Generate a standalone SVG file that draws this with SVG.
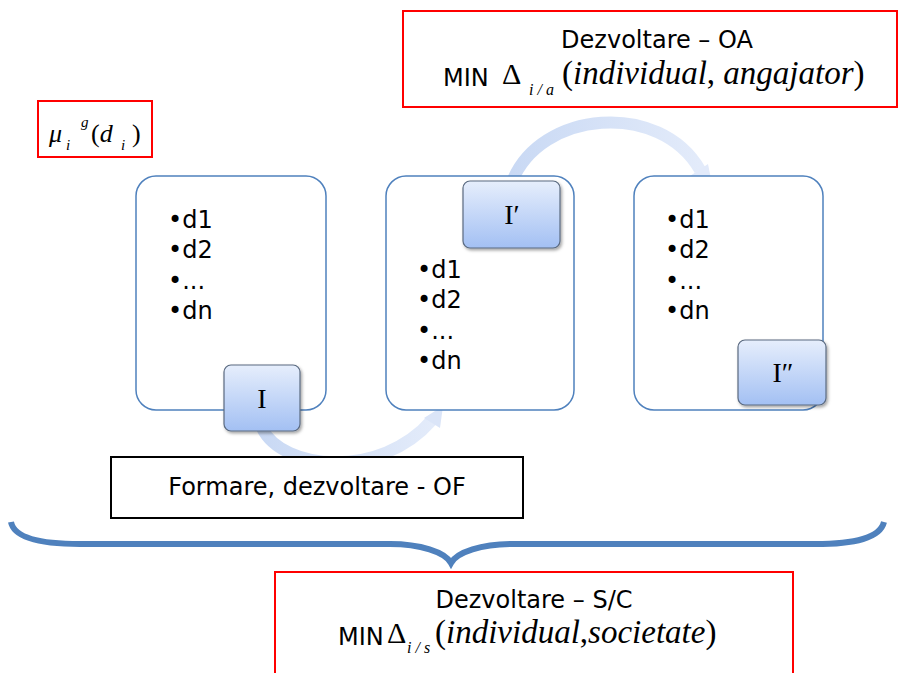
<svg xmlns="http://www.w3.org/2000/svg" width="899" height="673" viewBox="0 0 899 673">
  <style>
    .txt { font-family: "DejaVu Sans", Verdana, sans-serif; font-size: 24px; fill: #000; }
    .math { font-family: "Liberation Serif", "Times New Roman", serif; font-style: italic; fill: #000; }
    .up { font-style: normal; }
    .redbox { fill: #fff; stroke: #ff0000; stroke-width: 2; }
    .panel { fill: #fff; stroke: #4f81bd; stroke-width: 1.5; }
    .tag { fill: url(#tagGrad); stroke: #5a6a80; stroke-width: 1.2; filter: url(#shadow); }
    .tagtxt { font-family: "Liberation Serif", "Times New Roman", serif; font-size: 28px; fill: #000; text-anchor: middle; }
    .flow { fill: none; stroke: url(#flowGrad); stroke-width: 12; }
  </style>
  <defs>
    <linearGradient id="tagGrad" x1="0" y1="0" x2="0" y2="1">
      <stop offset="0" stop-color="#e6eefc"/>
      <stop offset="1" stop-color="#a3c0f3"/>
    </linearGradient>
    <linearGradient id="flowGrad" x1="0" y1="0" x2="1" y2="0">
      <stop offset="0" stop-color="#c9d9f4"/>
      <stop offset="1" stop-color="#e3ebfa"/>
    </linearGradient>
    <filter id="shadow" x="-20%" y="-20%" width="150%" height="150%">
      <feDropShadow dx="1.5" dy="2" stdDeviation="1.5" flood-color="#000" flood-opacity="0.35"/>
    </filter>
  </defs>

  <!-- objective boxes -->
  <g id="oa">
    <rect class="redbox" x="403" y="11" width="494" height="96"/>
    <text class="txt" x="657" y="48" text-anchor="middle">Dezvoltare – OA</text>
    <text class="txt" x="443" y="86">MIN</text>
    <text class="math up" x="502" y="84" font-size="30">Δ</text>
    <text class="math" x="529" y="95" font-size="16">i / a</text>
    <text class="math" x="562" y="84" font-size="33"><tspan class="up">(</tspan>individual<tspan class="up">,</tspan> angajator<tspan class="up">)</tspan></text>
  </g>

  <g id="mu">
    <rect class="redbox" x="38" y="101" width="114" height="56"/>
    <text class="math" x="49" y="142" font-size="26">μ</text>
    <text class="math" x="81" y="127" font-size="15">g</text>
    <text class="math" x="66" y="150" font-size="15">i</text>
    <text class="math" x="91" y="142" font-size="26"><tspan class="up">(</tspan>d</text>
    <text class="math" x="121" y="150" font-size="15">i</text>
    <text class="math up" x="132" y="142" font-size="26">)</text>
  </g>

  <!-- connectors -->
  <g id="connectors">
    <path class="flow" d="M262,428 C282,470 380,480 432,420"/>
    <polygon points="443,406 440,428 424,418" fill="#dbe5f8"/>
    <path class="flow" d="M512,182 C540,110 660,100 700,170"/>
    <polygon points="712,184 690,176 708,164" fill="#e2eafa"/>
  </g>

  <!-- panels -->
  <g id="panel1">
    <rect class="panel" x="136" y="176" width="190" height="234" rx="20"/>
    <text class="txt" x="168" y="228">•d1</text>
    <text class="txt" x="168" y="258">•d2</text>
    <text class="txt" x="168" y="289">•...</text>
    <text class="txt" x="168" y="319">•dn</text>
  </g>
  <g id="panel2">
    <rect class="panel" x="386" y="176" width="188" height="234" rx="20"/>
    <text class="txt" x="417" y="278">•d1</text>
    <text class="txt" x="417" y="308">•d2</text>
    <text class="txt" x="417" y="339">•...</text>
    <text class="txt" x="417" y="369">•dn</text>
  </g>
  <g id="panel3">
    <rect class="panel" x="634" y="176" width="189" height="234" rx="20"/>
    <text class="txt" x="665" y="228">•d1</text>
    <text class="txt" x="665" y="258">•d2</text>
    <text class="txt" x="665" y="289">•...</text>
    <text class="txt" x="665" y="319">•dn</text>
  </g>

  <!-- individual states -->
  <g id="stateI">
    <rect class="tag" x="224" y="365" width="76" height="66" rx="7"/>
    <text class="tagtxt" x="262" y="408">I</text>
  </g>
  <g id="stateI1">
    <rect class="tag" x="463" y="181" width="97" height="67" rx="7"/>
    <text class="tagtxt" x="512" y="224">I′</text>
  </g>
  <g id="stateI2">
    <rect class="tag" x="738" y="340" width="88" height="65" rx="7"/>
    <text class="tagtxt" x="783" y="382">I″</text>
  </g>

  <g id="of">
    <rect x="111" y="457" width="412" height="61" fill="#fff" stroke="#000" stroke-width="2"/>
    <text class="txt" x="317" y="495" text-anchor="middle">Formare, dezvoltare - OF</text>
  </g>

  <!-- brace -->
  <g id="brace">
    <path d="M11,522 C14,538 40,544 80,544 L390,544 C420,544 445,552 451,563 C457,552 482,544 512,544 L815,544 C855,544 880,538 884,522" fill="none" stroke="#4f81bd" stroke-width="6"/>
  </g>

  <g id="sc">
    <rect class="redbox" x="275" y="572" width="518" height="110"/>
    <text class="txt" x="534" y="608" text-anchor="middle">Dezvoltare – S/C</text>
    <text class="txt" x="338" y="645">MIN</text>
    <text class="math up" x="387" y="643" font-size="30">Δ</text>
    <text class="math" x="407" y="653" font-size="16">i / s</text>
    <text class="math" x="435" y="643" font-size="33"><tspan class="up">(</tspan>individual<tspan class="up">,</tspan>societate<tspan class="up">)</tspan></text>
  </g>
</svg>
